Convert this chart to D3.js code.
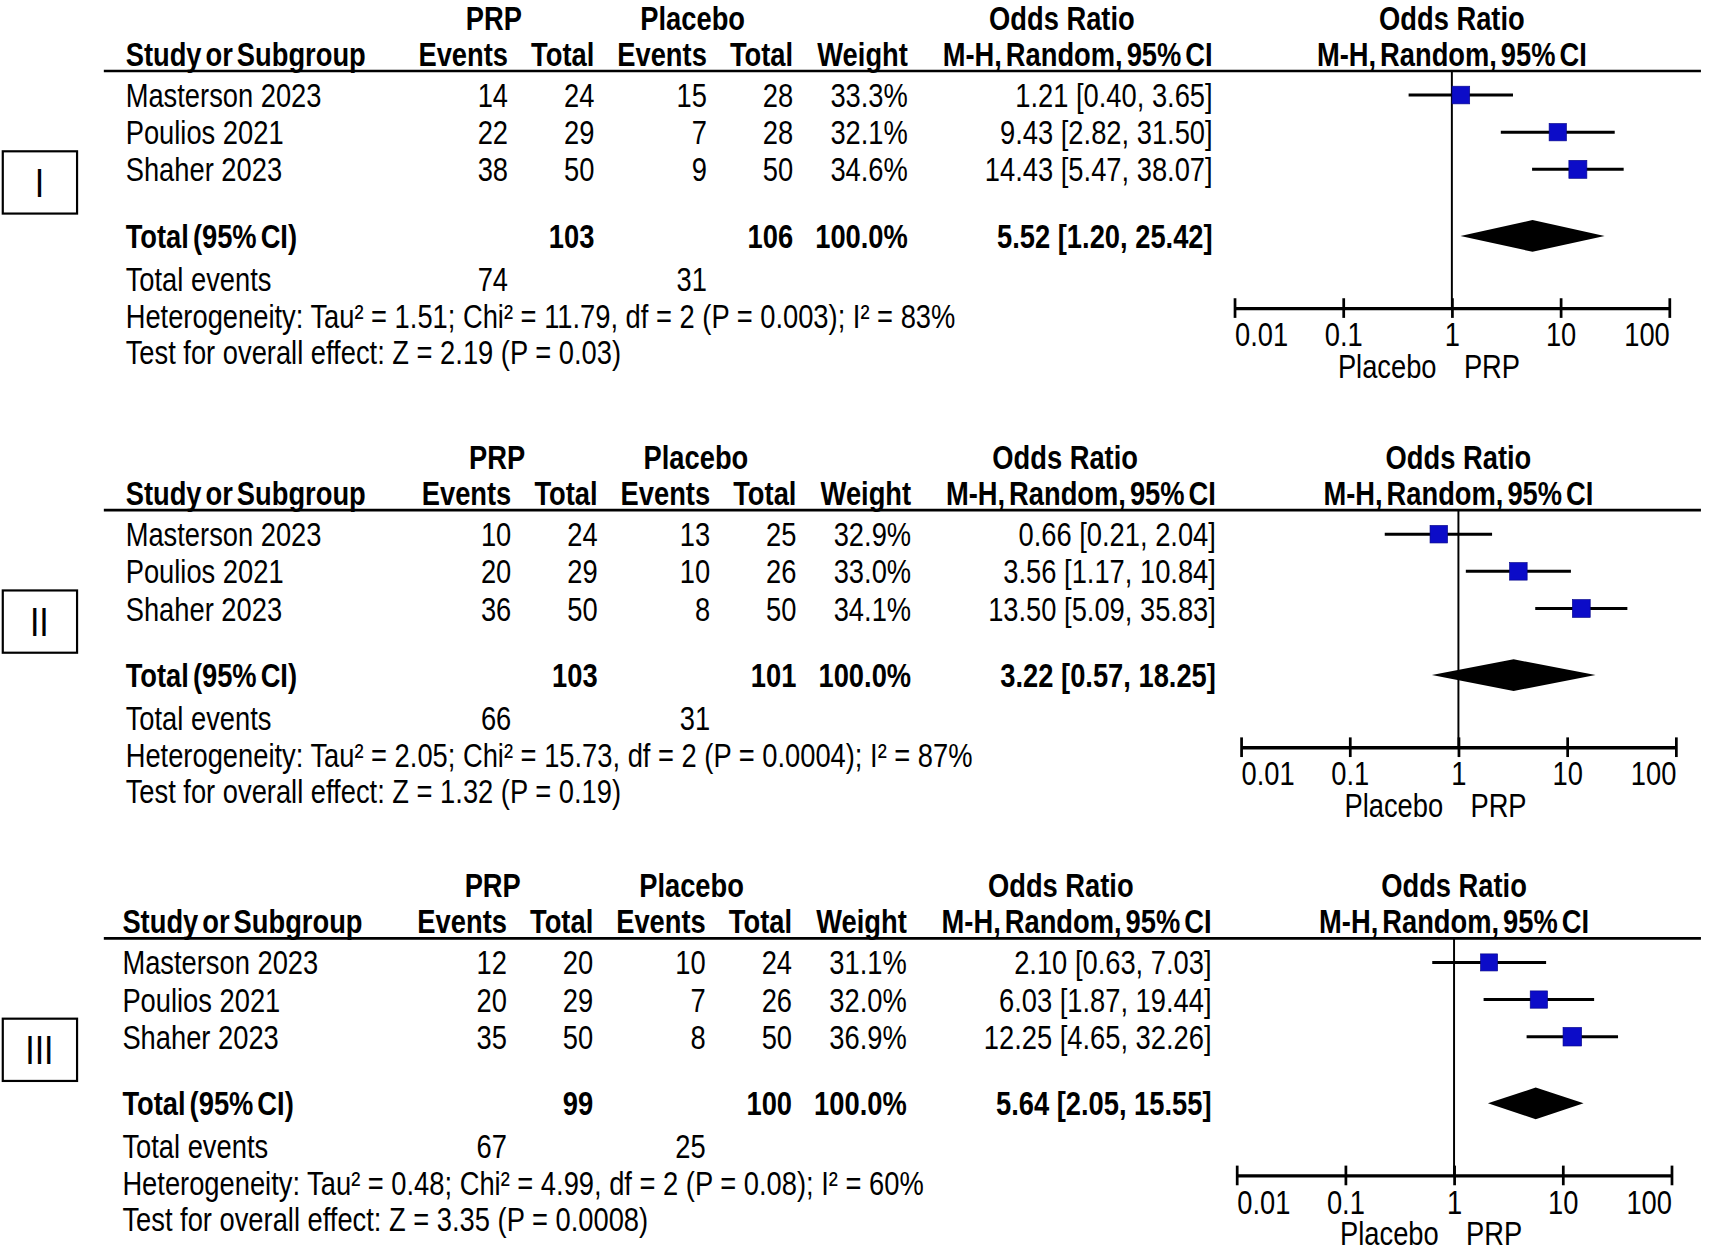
<!DOCTYPE html>
<html><head><meta charset="utf-8">
<script src="https://cdn.jsdelivr.net/npm/d3@7"></script>
<style>body{margin:0;background:#fff} svg{display:block}</style>
</head><body><svg id="c"></svg>
<script>
// ---------------- DATA ----------------
const studies = ["Masterson 2023", "Poulios 2021", "Shaher 2023"];
const panelLabels = ["I", "II", "III"];
const prpEvents = [[14, 22, 38], [10, 20, 36], [12, 20, 35]];
const prpTotal = [[24, 29, 50], [24, 29, 50], [20, 29, 50]];
const plcEvents = [[15, 7, 9], [13, 10, 8], [10, 7, 8]];
const plcTotal = [[28, 28, 50], [25, 26, 50], [24, 26, 50]];
const weights = [[33.3, 32.1, 34.6], [32.9, 33.0, 34.1], [31.1, 32.0, 36.9]];
const orValues = [[1.21, 9.43, 14.43], [0.66, 3.56, 13.50], [2.10, 6.03, 12.25]];
const ciLow = [[0.40, 2.82, 5.47], [0.21, 1.17, 5.09], [0.63, 1.87, 4.65]];
const ciHigh = [[3.65, 31.50, 38.07], [2.04, 10.84, 35.83], [7.03, 19.44, 32.26]];
const totalPrp = [103, 103, 99];
const totalPlc = [106, 101, 100];
const totalWeight = [100.0, 100.0, 100.0];
const totalOr = [5.52, 3.22, 5.64];
const totalLow = [1.20, 0.57, 2.05];
const totalHigh = [25.42, 18.25, 15.55];
const eventsPrp = [74, 66, 67];
const eventsPlc = [31, 31, 25];
const heterogeneity = [
  "Heterogeneity: Tau² = 1.51; Chi² = 11.79, df = 2 (P = 0.003); I² = 83%",
  "Heterogeneity: Tau² = 2.05; Chi² = 15.73, df = 2 (P = 0.0004); I² = 87%",
  "Heterogeneity: Tau² = 0.48; Chi² = 4.99, df = 2 (P = 0.08); I² = 60%"
];
const overallEffect = [
  "Test for overall effect: Z = 2.19 (P = 0.03)",
  "Test for overall effect: Z = 1.32 (P = 0.19)",
  "Test for overall effect: Z = 3.35 (P = 0.0008)"
];
const axisTicks = [0.01, 0.1, 1, 10, 100];
const axisTickLabels = ["0.01", "0.1", "1", "10", "100"];
const favoursLabels = ["Placebo", "PRP"];

// ---------------- LAYOUT ----------------
const W = 1568, H = 1147;
const svg = d3.select("#c").attr("width", 1713).attr("height", 1253)
  .attr("viewBox", `0 0 ${W} ${H}`);
svg.append("rect").attr("width", W).attr("height", H).attr("fill", "#fff");

// font detection: narrow font if available, else horizontally scaled sans
let FAMILY = '"Liberation Sans Narrow", "Arial Narrow", "Liberation Sans", Arial, sans-serif', SX = 1;
(function () {
  const t = svg.append("text").style("font-size", "27px").text("Masterson 2023 Heterogeneity");
  t.style("font-family", FAMILY);
  const w1 = t.node().getComputedTextLength();
  t.style("font-family", '"Liberation Sans", Arial, sans-serif');
  const w2 = t.node().getComputedTextLength();
  t.remove();
  if (!(w1 < 0.92 * w2)) { FAMILY = '"Liberation Sans", Arial, sans-serif'; SX = 0.82; }
})();
svg.style("font-family", FAMILY);

const FS = 30.5;
function txt(g, x, y, s, anchor, bold, size) {
  return g.append("text")
    .attr("transform", `translate(${x},${y}) scale(${SX},1)`)
    .attr("text-anchor", anchor || "start")
    .attr("dominant-baseline", "central")
    .style("font-size", (size || FS) + "px")
    .style("font-weight", bold ? "bold" : "normal")
    .attr("fill", "#000")
    .text(s);
}

const panelLayout = [
  { dy: 0, dxText: 0, dxNum: 0, one: 1329 },
  { dy: 402, dxText: 0, dxNum: 3, one: 1335 },
  { dy: 794, dxText: -3, dxNum: -1, one: 1331 }
];
const rowY = [87, 121, 155];
const f2 = d3.format(".2f"), f1 = d3.format(".1f");
const orText = (o, l, h) => `${f2(o)} [${f2(l)}, ${f2(h)}]`;
const boxSize = d3.scaleSqrt().domain([0, 100]).range([0, 28]);

panelLabels.forEach((lab, p) => {
  const L = panelLayout[p];
  const g = svg.append("g").attr("transform", `translate(0,${L.dy})`);
  const n = L.dxNum, t = L.dxText;
  const col = { pe: 465 + n, pt: 544 + n, ce: 647 + n, ct: 726 + n, w: 831 + n, or: 1110 + n };

  // panel label box
  g.append("rect").attr("x", 2.5).attr("y", 138.5).attr("width", 68).attr("height", 57)
    .attr("fill", "none").attr("stroke", "#000").attr("stroke-width", 2);
  txt(g, 36, 167, lab, "middle", false, 38);

  // headers
  txt(g, 452 + n, 16, "PRP", "middle", true);
  txt(g, 634 + n, 16, "Placebo", "middle", true);
  txt(g, 972 + n, 16, "Odds Ratio", "middle", true);
  txt(g, L.one, 16, "Odds Ratio", "middle", true);
  txt(g, 115 + t, 49, "Study or Subgroup", "start", true).style("word-spacing", "-4px");
  txt(g, col.pe, 49, "Events", "end", true);
  txt(g, col.pt, 49, "Total", "end", true);
  txt(g, col.ce, 49, "Events", "end", true);
  txt(g, col.ct, 49, "Total", "end", true);
  txt(g, col.w, 49, "Weight", "end", true);
  txt(g, col.or, 49, "M-H, Random, 95% CI", "end", true).style("word-spacing", "-4px");
  txt(g, L.one, 49, "M-H, Random, 95% CI", "middle", true).style("word-spacing", "-4px");
  g.append("line").attr("x1", 95).attr("x2", 1557).attr("y1", 65).attr("y2", 65)
    .attr("stroke", "#000").attr("stroke-width", 2.5);

  // study rows
  studies.forEach((s, i) => {
    const y = rowY[i];
    txt(g, 115 + t, y, s, "start");
    txt(g, col.pe, y, prpEvents[p][i], "end");
    txt(g, col.pt, y, prpTotal[p][i], "end");
    txt(g, col.ce, y, plcEvents[p][i], "end");
    txt(g, col.ct, y, plcTotal[p][i], "end");
    txt(g, col.w, y, f1(weights[p][i]) + "%", "end");
    txt(g, col.or, y, orText(orValues[p][i], ciLow[p][i], ciHigh[p][i]), "end");
  });

  // total rows
  txt(g, 115 + t, 216, "Total (95% CI)", "start", true).style("word-spacing", "-4px");
  txt(g, col.pt, 216, totalPrp[p], "end", true);
  txt(g, col.ct, 216, totalPlc[p], "end", true);
  txt(g, col.w, 216, f1(totalWeight[p]) + "%", "end", true);
  txt(g, col.or, 216, orText(totalOr[p], totalLow[p], totalHigh[p]), "end", true);
  txt(g, 115 + t, 255, "Total events", "start");
  txt(g, col.pe, 255, eventsPrp[p], "end");
  txt(g, col.ce, 255, eventsPlc[p], "end");
  txt(g, 115 + t, 289, heterogeneity[p], "start");
  txt(g, 115 + t, 322, overallEffect[p], "start");

  // forest plot
  const x = d3.scaleLog().domain([0.01, 100]).range([L.one - 199, L.one + 199]);
  const axisY = 282;
  g.append("line").attr("x1", x(1)).attr("x2", x(1)).attr("y1", 65).attr("y2", axisY)
    .attr("stroke", "#000").attr("stroke-width", 1.8);

  studies.forEach((s, i) => {
    const y = rowY[i];
    g.append("line").attr("x1", x(ciLow[p][i])).attr("x2", x(ciHigh[p][i]))
      .attr("y1", y).attr("y2", y).attr("stroke", "#000").attr("stroke-width", 2.8);
    const b = boxSize(weights[p][i]);
    g.append("rect").attr("x", x(orValues[p][i]) - b / 2).attr("y", y - b / 2)
      .attr("width", b).attr("height", b)
      .attr("fill", "#0c0cc8").attr("stroke", "#08088a").attr("stroke-width", 0.6);
  });

  const dh = 14.5;
  g.append("path")
    .attr("d", `M${x(totalLow[p])},216 L${x(totalOr[p])},${216 - dh} L${x(totalHigh[p])},216 L${x(totalOr[p])},${216 + dh} Z`)
    .attr("fill", "#000");

  const axis = d3.axisBottom(x).tickValues(axisTicks)
    .tickFormat((d, i) => axisTickLabels[i]).tickSize(9).tickSizeOuter(0);
  const ga = g.append("g").attr("transform", `translate(0,${axisY})`).call(axis);
  ga.select(".domain").attr("stroke-width", 3).attr("stroke", "#000");
  ga.selectAll(".tick line").attr("y1", -9).attr("y2", 9).attr("stroke-width", 2.5).attr("stroke", "#000");
  ga.selectAll(".tick text")
    .attr("y", null).attr("dy", null)
    .attr("transform", `translate(0,24) scale(${SX},1)`)
    .attr("dominant-baseline", "central")
    .attr("text-anchor", (d, i) => i === 0 ? "start" : (i === axisTicks.length - 1 ? "end" : "middle"))
    .attr("fill", "#000")
    .style("font-size", FS + "px").style("font-family", FAMILY);

  txt(g, x(1) - 14, 335, favoursLabels[0], "end");
  txt(g, x(1) + 11, 335, favoursLabels[1], "start");
});
</script>
</body></html>
